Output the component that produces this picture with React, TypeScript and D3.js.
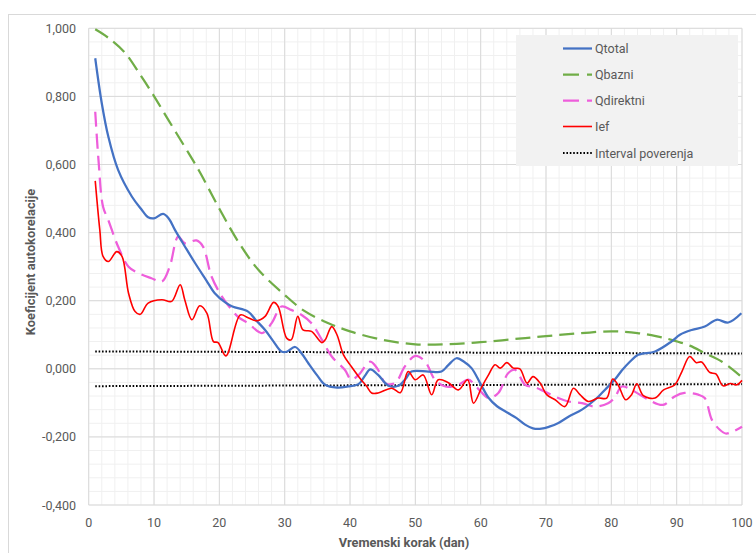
import React from "react";
import * as d3 from "d3";

type P = [number, number];

const xTicks = [0, 10, 20, 30, 40, 50, 60, 70, 80, 90, 100];
const yTicks = [-0.4, -0.2, 0, 0.2, 0.4, 0.6, 0.8, 1.0];

const qtotal: P[] = [[1,0.912],[2,0.78],[3,0.682],[4.5,0.584],[6.6,0.506],[8,0.47],[9.1,0.445],[10,0.442],[11.4,0.455],[12.3,0.44],[13.2,0.408],[14.7,0.36],[16.3,0.31],[18,0.26],[19.3,0.222],[20.9,0.195],[22,0.183],[24.4,0.168],[25.5,0.145],[27,0.114],[28.3,0.08],[29.5,0.051],[30.3,0.05],[31.6,0.064],[32.6,0.045],[33.6,0.017],[35,-0.02],[36.2,-0.047],[38,-0.055],[39.7,-0.052],[41.3,-0.045],[42.3,-0.02],[43.1,-0.002],[44.3,-0.018],[45.9,-0.05],[47.4,-0.05],[48.5,-0.03],[49.4,-0.008],[52,-0.008],[54,-0.008],[55,0.01],[56.3,0.031],[57.5,0.02],[58.6,0.002],[60,-0.045],[61.2,-0.085],[62.5,-0.11],[64.2,-0.13],[65.5,-0.145],[66.8,-0.164],[68,-0.175],[69.3,-0.176],[70.5,-0.17],[71.9,-0.159],[73.5,-0.14],[75.5,-0.12],[78,-0.082],[79,-0.062],[80.6,-0.03],[81.6,-0.005],[82.8,0.02],[84.1,0.041],[86.7,0.051],[89.2,0.08],[90.5,0.1],[92.3,0.114],[94.3,0.124],[96.1,0.144],[97.9,0.136],[99.9,0.163]];

const qbazni: P[] = [[1,0.997],[3,0.972],[5.6,0.927],[8,0.86],[9.9,0.804],[12,0.737],[14.7,0.652],[17,0.578],[20,0.47],[23,0.37],[26,0.29],[30,0.217],[33,0.17],[36.7,0.134],[40,0.11],[45,0.085],[50,0.072],[55,0.072],[60,0.078],[65,0.087],[70,0.096],[75,0.104],[80,0.11],[84,0.105],[87,0.095],[89.2,0.085],[92,0.068],[94.3,0.046],[97,0.02],[100,-0.025]];

const qdirektni: P[] = [[1,0.755],[1.5,0.613],[2.2,0.476],[3,0.437],[4.5,0.359],[6.1,0.30],[7.6,0.281],[9.6,0.266],[11.2,0.256],[12.4,0.30],[13.7,0.388],[14.7,0.369],[16.5,0.377],[17.5,0.359],[18.8,0.271],[20.4,0.212],[21.9,0.173],[23,0.15],[24.4,0.134],[26.5,0.105],[28,0.134],[29.5,0.183],[31,0.173],[32.6,0.158],[34.1,0.134],[35.7,0.085],[37.2,0.036],[39.2,-0.003],[40.2,-0.032],[41.3,-0.018],[43.1,0.021],[44.3,-0.003],[45.4,-0.042],[46.9,-0.042],[48.4,0.007],[50,0.038],[51.5,0.021],[53,-0.032],[54.6,-0.052],[56.6,-0.047],[58.1,-0.032],[59.6,-0.058],[61.2,-0.086],[62.7,-0.071],[64.2,-0.013],[65.3,-0.003],[66.8,-0.047],[68.3,-0.054],[69.8,-0.067],[71.9,-0.086],[73.4,-0.096],[75.5,-0.101],[77.5,-0.111],[79.5,-0.101],[80.5,-0.085],[81.6,-0.052],[83.1,-0.062],[85.7,-0.091],[87.9,-0.106],[89.7,-0.081],[91.2,-0.071],[93.3,-0.076],[94.3,-0.086],[95.4,-0.15],[96.6,-0.179],[97.5,-0.19],[98.5,-0.185],[100,-0.17]];

const ief: P[] = [[1,0.552],[1.7,0.408],[2.2,0.33],[3,0.315],[4.3,0.344],[5.1,0.33],[6.1,0.222],[7.1,0.168],[7.9,0.16],[9.1,0.193],[11.2,0.203],[12.7,0.198],[14,0.247],[14.7,0.203],[15.8,0.144],[17,0.185],[18.1,0.163],[19.1,0.08],[19.8,0.077],[21,0.038],[23.2,0.158],[24.4,0.15],[25.7,0.141],[27,0.154],[28.3,0.195],[29,0.183],[30.3,0.09],[31,0.085],[32,0.154],[32.8,0.114],[34.1,0.11],[35.7,0.077],[36.2,0.085],[37.2,0.124],[38,0.10],[39,0.041],[40.2,0.007],[41.7,-0.032],[42.5,-0.05],[43.3,-0.071],[44.3,-0.071],[46.4,-0.057],[47.7,-0.07],[48.9,-0.008],[50,-0.032],[51.2,-0.018],[52.5,-0.076],[53.5,-0.032],[55,-0.04],[56.6,-0.062],[58,-0.032],[58.9,-0.101],[60.2,-0.052],[61.2,-0.018],[62.2,0.012],[63,0.002],[64,0.018],[65,0.002],[66,0.0],[67.1,-0.042],[68,-0.023],[69.1,-0.042],[70.1,-0.076],[71.4,-0.091],[72.9,-0.111],[74.2,-0.057],[75.2,-0.076],[76.5,-0.096],[78,-0.086],[79.3,-0.086],[80.2,-0.03],[81.1,-0.05],[82.2,-0.091],[83.1,-0.076],[83.9,-0.044],[84.9,-0.079],[86.7,-0.086],[88,-0.062],[89.7,-0.047],[90.8,-0.008],[92,0.036],[93,0.018],[93.8,0.02],[95.1,-0.011],[96,-0.015],[97.1,-0.05],[98.2,-0.043],[99.2,-0.047],[100,-0.034]];

const confUpper: P[] = [[1,0.051],[100,0.045]];
const confLower: P[] = [[1,-0.051],[100,-0.045]];

const seriesNames = ["Qtotal", "Qbazni", "Qdirektni", "Ief", "Interval poverenja"];

const W = 756, H = 553;
const L = 88.7, R = 742, T = 28.3, B = 505;
const FONT = "Roboto, 'Liberation Sans', sans-serif";
const TXT = "#595959";

export default function App() {
  const x = d3.scaleLinear().domain([0, 100]).range([L, R]);
  const y = d3.scaleLinear().domain([-0.4, 1.0]).range([B, T]);
  const line = d3.line<P>().x(d => x(d[0])).y(d => y(d[1])).curve(d3.curveCatmullRom.alpha(0.5));
  const straight = d3.line<P>().x(d => x(d[0])).y(d => y(d[1]));
  const fmt = (v: number) => d3.format(",.3f")(v).replace(".", ",").replace("−", "-");

  const xMinor = d3.range(0, 101, 2);
  const yMinor = d3.range(0, 36).map(i => -0.4 + i * 0.04);

  const styles = [
    { stroke: "#4472C4", width: 2.25, dash: undefined as string | undefined },
    { stroke: "#70AD47", width: 2.25, dash: "15,7" },
    { stroke: "#EE5EDB", width: 2.25, dash: "15,7" },
    { stroke: "#FF0000", width: 1.6, dash: undefined },
    { stroke: "#000000", width: 2, dash: "1.6,1.8" },
  ];
  const data = [qtotal, qbazni, qdirektni, ief];
  const legendY = [48.5, 74.5, 100.5, 126.5, 153];

  return (
    <svg width={W} height={H} style={{ position: "absolute", left: 0, top: 0 }} fontFamily={FONT}>
      <rect x={0} y={0} width={W} height={H} fill="#fff" />
      <rect x={8.5} y={14.5} width={W + 10} height={H + 10} fill="#fff" stroke="#d9d9d9" />
      {xMinor.map(v => (
        <line key={"xm" + v} x1={x(v)} x2={x(v)} y1={T} y2={B} stroke="#f0f0f0" strokeWidth={1} />
      ))}
      {yMinor.map((v, i) => (
        <line key={"ym" + i} x1={L} x2={R} y1={y(v)} y2={y(v)} stroke="#f0f0f0" strokeWidth={1} />
      ))}
      {xTicks.map(v => (
        <line key={"xM" + v} x1={x(v)} x2={x(v)} y1={T} y2={B} stroke="#d9d9d9" strokeWidth={1} />
      ))}
      {yTicks.map(v => (
        <line key={"yM" + v} x1={L} x2={R} y1={y(v)} y2={y(v)} stroke="#d9d9d9" strokeWidth={1} />
      ))}
      {xTicks.map(v => (
        <text key={"xt" + v} x={x(v)} y={527} textAnchor="middle" fontSize={12.5} fill={TXT}>{v}</text>
      ))}
      {yTicks.map(v => (
        <text key={"yt" + v} x={76} y={y(v) + 4.5} textAnchor="end" fontSize={12.5} fill={TXT}>{fmt(v)}</text>
      ))}
      <text x={404} y={547} textAnchor="middle" fontSize={12.8} fontWeight="bold" fill={TXT}>Vremenski korak (dan)</text>
      <text transform={`translate(35,262) rotate(-90)`} textAnchor="middle" fontSize={12.8} fontWeight="bold" fill={TXT}>Koeficijent autokorelacije</text>

      {[confUpper, confLower].map((d, i) => (
        <path key={"c" + i} d={straight(d) || ""} fill="none" stroke={styles[4].stroke} strokeWidth={styles[4].width} strokeDasharray={styles[4].dash} />
      ))}
      {[1, 2, 0, 3].map(i => (
        <path key={"s" + i} d={line(data[i]) || ""} fill="none" stroke={styles[i].stroke} strokeWidth={styles[i].width} strokeDasharray={styles[i].dash} strokeLinejoin="round" />
      ))}

      <rect x={516} y={35} width={222} height={131} fill="#f2f2f2" />
      {seriesNames.map((n, i) => (
        <g key={n}>
          <line x1={563} x2={592} y1={legendY[i]} y2={legendY[i]} stroke={styles[i].stroke} strokeWidth={styles[i].width} strokeDasharray={styles[i].dash ? (i === 4 ? styles[i].dash : "16,8") : undefined} />
          <text x={595} y={legendY[i] + 4.5} fontSize={12.5} fill={TXT}>{n}</text>
        </g>
      ))}
    </svg>
  );
}
